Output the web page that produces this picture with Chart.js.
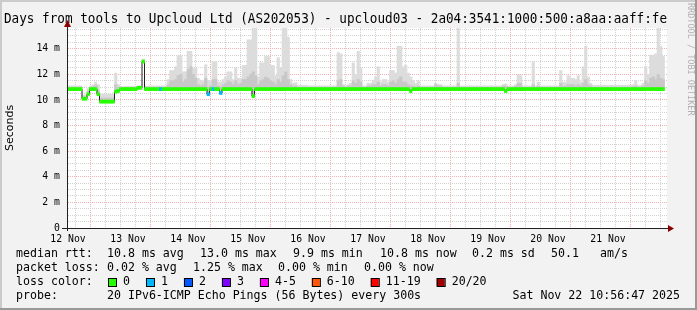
<!DOCTYPE html>
<html>
<head>
<meta charset="utf-8">
<script src="https://cdn.jsdelivr.net/npm/chart.js@4/dist/chart.umd.min.js"></script>
<style>
  html, body { margin: 0; padding: 0; background: #f2f2f2; }
  canvas { display: block; }
</style>
</head>
<body>
<canvas id="smoke" width="697" height="310"></canvas>
<script>
// one bin per hour, 240 hours (10 days) from the left edge of the graph
var dayLabels = ['12 Nov', '13 Nov', '14 Nov', '15 Nov', '16 Nov', '17 Nov', '18 Nov', '19 Nov', '20 Nov', '21 Nov'];

// median rtt in ms
var median = [
  10.85,10.85,10.85,10.85,10.85,10.85,10.1,10.1,10.45,10.85,10.85,10.85,10.45,9.87,9.87,9.87,9.87,9.87,9.87,10.65,10.7,10.85,10.85,10.85,
  10.85,10.85,10.85,10.85,10.95,10.95,13.0,10.85,10.85,10.85,10.85,10.85,10.85,10.85,10.85,10.85,10.85,10.85,10.85,10.85,10.85,10.85,10.85,10.85,
  10.85,10.85,10.85,10.85,10.85,10.85,10.85,10.85,10.45,10.85,10.85,10.85,10.85,10.55,10.85,10.85,10.85,10.85,10.85,10.85,10.85,10.85,10.85,10.85,
  10.85,10.85,10.3,10.85,10.85,10.85,10.85,10.85,10.85,10.85,10.85,10.85,10.85,10.85,10.85,10.85,10.85,10.85,10.85,10.85,10.85,10.85,10.85,10.85,
  10.85,10.85,10.85,10.85,10.85,10.85,10.85,10.85,10.85,10.85,10.85,10.85,10.85,10.85,10.85,10.85,10.85,10.85,10.85,10.85,10.85,10.85,10.85,10.85,
  10.85,10.85,10.85,10.85,10.85,10.85,10.85,10.85,10.85,10.85,10.85,10.85,10.85,10.85,10.85,10.85,10.85,10.7,10.85,10.85,10.85,10.85,10.85,10.85,
  10.85,10.85,10.85,10.85,10.85,10.85,10.85,10.85,10.85,10.85,10.85,10.85,10.85,10.85,10.85,10.85,10.85,10.85,10.85,10.85,10.85,10.85,10.85,10.85,
  10.85,10.85,10.85,10.85,10.85,10.85,10.85,10.7,10.85,10.85,10.85,10.85,10.85,10.85,10.85,10.85,10.85,10.85,10.85,10.85,10.85,10.85,10.85,10.85,
  10.85,10.85,10.85,10.85,10.85,10.85,10.85,10.85,10.85,10.85,10.85,10.85,10.85,10.85,10.85,10.85,10.85,10.85,10.85,10.85,10.85,10.85,10.85,10.85,
  10.85,10.85,10.85,10.85,10.85,10.85,10.85,10.85,10.85,10.85,10.85,10.85,10.85,10.85,10.85,10.85,10.85,10.85,10.85,10.85,10.85,10.85,10.85,null
];

// top of the smoke (slowest pings), ms
var smokeHi = [
  11.1,11.1,11.1,11.1,11.1,11.1,10.4,10.4,10.9,11.1,11.2,11.4,11.2,10.45,10.45,10.45,10.45,10.45,10.45,12.1,11.2,11.05,11.05,11.05,
  11.05,11.05,11.05,11.05,11.1,11.1,13.2,11.1,11.1,11.1,11.1,11.1,11.1,11.1,11.1,11.1,11.6,12.3,12.3,12.6,13.45,13.45,12.2,12.2,
  13.8,13.8,12.5,12.5,11.7,11.5,11.5,12.75,11.5,11.5,13.0,13.0,11.4,11.4,11.6,11.8,12.2,12.2,11.6,12.5,11.7,11.7,12.7,12.7,
  14.7,14.7,15.6,15.6,11.8,12.9,12.9,13.4,13.4,12.7,12.7,11.9,13.3,12.5,15.6,15.6,14.9,11.6,11.3,11.35,11.15,11.15,11.15,11.15,
  11.1,11.1,11.1,11.1,11.1,11.1,11.1,11.1,11.1,11.1,11.1,11.1,13.7,13.6,11.2,11.1,11.2,11.3,12.9,12.0,13.8,12.5,11.1,11.1,
  11.3,11.3,11.55,11.8,12.6,11.4,11.6,11.6,11.4,12.3,12.3,12.1,14.2,14.2,12.6,12.7,12.1,11.8,11.5,11.3,11.5,11.1,11.1,11.1,
  11.1,11.1,11.1,11.3,11.2,11.2,11.1,11.1,11.1,11.1,11.1,11.1,15.7,11.1,11.1,11.1,11.1,11.1,11.1,11.1,11.1,11.1,11.1,11.1,
  11.1,11.1,11.1,11.1,11.1,11.1,11.2,11.25,11.1,11.1,11.1,11.2,12.0,11.9,11.1,11.1,11.1,11.1,13.0,11.1,11.4,11.1,11.1,11.1,
  11.1,11.1,11.1,11.1,11.1,12.3,11.4,11.4,11.9,11.7,11.7,11.6,11.9,11.4,12.6,14.2,11.8,11.3,11.15,11.15,11.15,11.15,11.15,11.15,
  11.15,11.15,11.15,11.15,11.15,11.15,11.15,11.15,11.15,11.15,11.2,11.5,11.15,11.15,11.3,12.6,12.0,13.5,13.5,13.6,15.6,14.2,13.4,null
];

// top of the dense (darker) part of the smoke, ms
var smokeMid = [
  11.0,11.0,11.0,11.0,11.0,11.0,10.25,10.25,10.7,11.0,11.05,11.15,10.75,10.15,10.15,10.15,10.15,10.15,10.15,11.2,11.0,11.0,11.0,11.0,
  11.0,11.0,11.0,11.0,11.0,11.0,13.1,11.0,11.0,11.0,11.0,11.0,11.0,11.0,11.0,11.0,11.2,11.5,11.5,11.6,11.9,12.0,11.4,11.6,
  12.4,12.6,12.0,11.7,11.2,11.1,11.2,11.7,11.0,11.1,11.6,11.6,11.1,11.0,11.2,11.3,11.5,11.4,11.2,11.5,11.2,11.3,11.6,11.6,
  11.8,12.0,12.2,11.9,11.2,11.5,11.6,11.8,11.7,11.5,11.4,11.2,11.6,11.4,11.9,12.2,11.6,11.2,11.1,11.1,11.0,11.0,11.0,11.0,
  11.0,11.0,11.0,11.0,11.0,11.0,11.0,11.0,11.0,11.0,11.0,11.0,11.5,11.6,11.1,11.0,11.1,11.1,11.5,11.3,11.6,11.4,11.0,11.0,
  11.1,11.1,11.2,11.2,11.4,11.1,11.2,11.2,11.1,11.4,11.5,11.3,11.6,11.8,11.4,11.4,11.2,11.1,11.1,11.0,11.1,11.0,11.0,11.0,
  11.0,11.0,11.0,11.2,11.1,11.1,11.0,11.0,11.0,11.0,11.0,11.0,11.3,11.0,11.0,11.0,11.0,11.0,11.0,11.0,11.0,11.0,11.0,11.0,
  11.0,11.0,11.0,11.0,11.0,11.0,11.1,11.1,11.0,11.0,11.0,11.1,11.3,11.3,11.0,11.0,11.0,11.0,11.2,11.0,11.1,11.0,11.0,11.0,
  11.0,11.0,11.0,11.0,11.0,11.3,11.1,11.1,11.2,11.2,11.2,11.1,11.2,11.1,11.3,11.6,11.2,11.1,11.0,11.0,11.0,11.0,11.0,11.0,
  11.0,11.0,11.0,11.0,11.0,11.0,11.0,11.0,11.0,11.0,11.05,11.1,11.0,11.0,11.1,11.5,11.3,11.7,11.8,11.6,12.0,11.7,11.6,null
];

// hours with packet loss (everything else is 0 lost)
var lossHours = [37, 56, 58, 61];
var lossLevel = [1, 1, 1, 1];

var lossNames = ['0', '1', '2', '3', '4-5', '6-10', '11-19', '20/20'];
var lossColors = ['#26ff00', '#00b8ff', '#0059ff', '#7e00ff', '#ff00ff', '#ff5500', '#ff0000', '#a10000'];

var statsRtt = ['10.8 ms avg', '13.0 ms max', '9.9 ms min', '10.8 ms now', '0.2 ms sd', '50.1', 'am/s'];
var statsLoss = ['0.02 % avg', '1.25 % max', '0.00 % min', '0.00 % now'];
var probeText = '20 IPv6-ICMP Echo Pings (56 Bytes) every 300s';
var stampText = 'Sat Nov 22 10:56:47 2025';

var firstTick = 0.4;   // first 6h grid line, hours from left edge
var MONO = '"DejaVu Sans Mono", monospace';

function lossAt(h) {
    var k = lossHours.indexOf(h);
    return k < 0 ? 0 : lossLevel[k];
}

var outer = [], inner = [], band = [], bandCol = [], mline = [];
for (let i = 0; i < median.length; i++) {
    if (median[i] === null) continue;
    let x = i + 0.5;
    outer.push({x: x, y: [median[i], smokeHi[i]]});
    inner.push({x: x, y: [median[i], smokeMid[i]]});
    band.push({x: x, y: [median[i] - 0.12, median[i] + 0.12]});
    bandCol.push(lossColors[lossAt(i)]);
    mline.push({x: x, y: median[i]});
}

const decor = {
    id: 'decor',
    beforeDraw(chart) {
        const ctx = chart.ctx, a = chart.chartArea;
        ctx.save();
        ctx.fillStyle = '#f2f2f2';
        ctx.fillRect(0, 0, chart.width, chart.height);
        ctx.fillStyle = '#ffffff';
        ctx.fillRect(a.left, a.top, a.right - a.left, a.bottom - a.top);
        ctx.restore();
    },
    afterDraw(chart) {
        const ctx = chart.ctx, a = chart.chartArea;
        const W = chart.width, H = chart.height;
        ctx.save();

        // axis extensions and arrows
        ctx.strokeStyle = '#202020';
        ctx.lineWidth = 1;
        ctx.beginPath();
        ctx.moveTo(a.left - 5, a.bottom + 0.5); ctx.lineTo(a.right + 4, a.bottom + 0.5);
        ctx.moveTo(a.left + 0.5, a.bottom + 3); ctx.lineTo(a.left + 0.5, a.top - 2);
        ctx.stroke();
        ctx.fillStyle = '#8b0000';
        ctx.beginPath();
        ctx.moveTo(a.left + 0.5, a.top - 8); ctx.lineTo(a.left - 3, a.top - 1); ctx.lineTo(a.left + 4, a.top - 1);
        ctx.fill();
        ctx.beginPath();
        ctx.moveTo(a.right + 7, a.bottom + 0.5); ctx.lineTo(a.right + 1, a.bottom - 3); ctx.lineTo(a.right + 1, a.bottom + 4);
        ctx.fill();

        // rrdtool watermark
        ctx.save();
        ctx.translate(690, 3);
        ctx.rotate(Math.PI / 2);
        ctx.font = '8.5px ' + MONO;
        ctx.fillStyle = '#b0b0b0';
        ctx.textBaseline = 'middle';
        ctx.fillText('RRDTOOL / TOBI OETIKER', 0, 0);
        ctx.restore();

        // legend block
        ctx.font = '11.6px ' + MONO;
        ctx.fillStyle = '#000';
        ctx.textBaseline = 'middle';
        ctx.textAlign = 'left';
        ctx.fillText('median rtt:', 16, 254);
        [107, 200, 293, 380, 472, 551, 600].forEach((x, k) => ctx.fillText(statsRtt[k], x, 254));
        ctx.fillText('packet loss:', 16, 268);
        [107, 193, 278, 364].forEach((x, k) => ctx.fillText(statsLoss[k], x, 268));
        ctx.fillText('loss color:', 16, 282);
        let bx = 108;
        lossNames.forEach((name, k) => {
            ctx.fillStyle = lossColors[k];
            ctx.fillRect(bx, 278, 8, 8);
            ctx.strokeStyle = '#000';
            ctx.strokeRect(bx + 0.5, 278.5, 8, 8);
            ctx.fillStyle = '#000';
            ctx.fillText(name, bx + 15, 282);
            bx = bx + 15 + ctx.measureText(name).width + 16;
        });
        ctx.fillText('probe:', 16, 296);
        ctx.fillText(probeText, 107, 296);
        ctx.textAlign = 'right';
        ctx.fillText(stampText, 680, 296);

        // 3d frame
        ctx.fillStyle = '#cbcbcb';
        ctx.fillRect(0, 0, W, 2);
        ctx.fillRect(0, 0, 2, H);
        ctx.fillStyle = '#999999';
        ctx.fillRect(0, H - 2, W, 2);
        ctx.fillRect(W - 2, 0, 2, H);
        ctx.restore();
    }
};

new Chart(document.getElementById('smoke'), {
    type: 'bar',
    data: {
        datasets: [
            { type: 'bar', data: band, backgroundColor: bandCol, grouped: false, order: 0,
              barPercentage: 1, categoryPercentage: 1 },
            { type: 'line', data: mline, stepped: 'middle', borderColor: '#202020', borderWidth: 1,
              pointRadius: 0, order: 1 },
            { type: 'bar', data: inner, backgroundColor: '#c8c8c8', grouped: false, order: 2,
              barPercentage: 1, categoryPercentage: 1 },
            { type: 'bar', data: outer, backgroundColor: '#dcdcdc', grouped: false, order: 3,
              barPercentage: 1, categoryPercentage: 1 }
        ]
    },
    options: {
        responsive: false,
        devicePixelRatio: 1,
        animation: false,
        layout: { padding: { left: 4, right: 30, top: 0, bottom: 62 } },
        plugins: {
            legend: { display: false },
            tooltip: { enabled: false },
            title: {
                display: true,
                align: 'start',
                text: 'Days from tools to Upcloud Ltd (AS202053) - upcloud03 - 2a04:3541:1000:500:a8aa:aaff:fe',
                color: '#000',
                font: { family: MONO, size: 13.4, weight: 'normal' },
                padding: { top: 11.4, bottom: 0.5 }
            }
        },
        scales: {
            x: {
                type: 'linear',
                min: 0,
                max: 240,
                offset: false,
                afterBuildTicks: function (scale) {
                    let t = [];
                    for (let k = 0; k < 40; k++) t.push({ value: firstTick + 6 * k });
                    scale.ticks = t;
                },
                afterFit: function (scale) { scale.height = 20; },
                ticks: {
                    autoSkip: false,
                    maxRotation: 0,
                    padding: 6,
                    color: '#000',
                    font: { family: MONO, size: 9.8 },
                    callback: function (v, i) { return i % 4 === 0 ? dayLabels[i / 4] : ''; }
                },
                grid: {
                    drawTicks: false,
                    color: (c) => (c.index % 4 === 2 ? '#f6b0b0' : '#d2d2d2')
                },
                border: { color: '#202020', width: 1, dash: [1, 1] }
            },
            y: {
                min: 0,
                max: 15.625,
                afterBuildTicks: function (scale) {
                    let t = [];
                    for (let k = 0; k <= 31; k++) t.push({ value: k * 0.5 });
                    scale.ticks = t;
                },
                afterFit: function (scale) { scale.width = 63; },
                ticks: {
                    autoSkip: false,
                    padding: 7,
                    color: '#000',
                    font: { family: MONO, size: 9.8 },
                    callback: function (v) {
                        if (v % 2 !== 0) return '';
                        return v === 0 ? '0' : v + ' m';
                    }
                },
                grid: {
                    drawTicks: false,
                    color: (c) => (c.tick && c.tick.value % 2 === 0 && c.tick.value > 0 ? '#f6b0b0' : '#d2d2d2')
                },
                border: { color: '#202020', width: 1, dash: [1, 1] },
                title: {
                    display: true,
                    text: 'Seconds',
                    color: '#000',
                    font: { family: '"DejaVu Sans", sans-serif', size: 11 },
                    padding: { top: 0, bottom: 0 }
                }
            }
        }
    },
    plugins: [decor]
});
</script>
</body>
</html>
